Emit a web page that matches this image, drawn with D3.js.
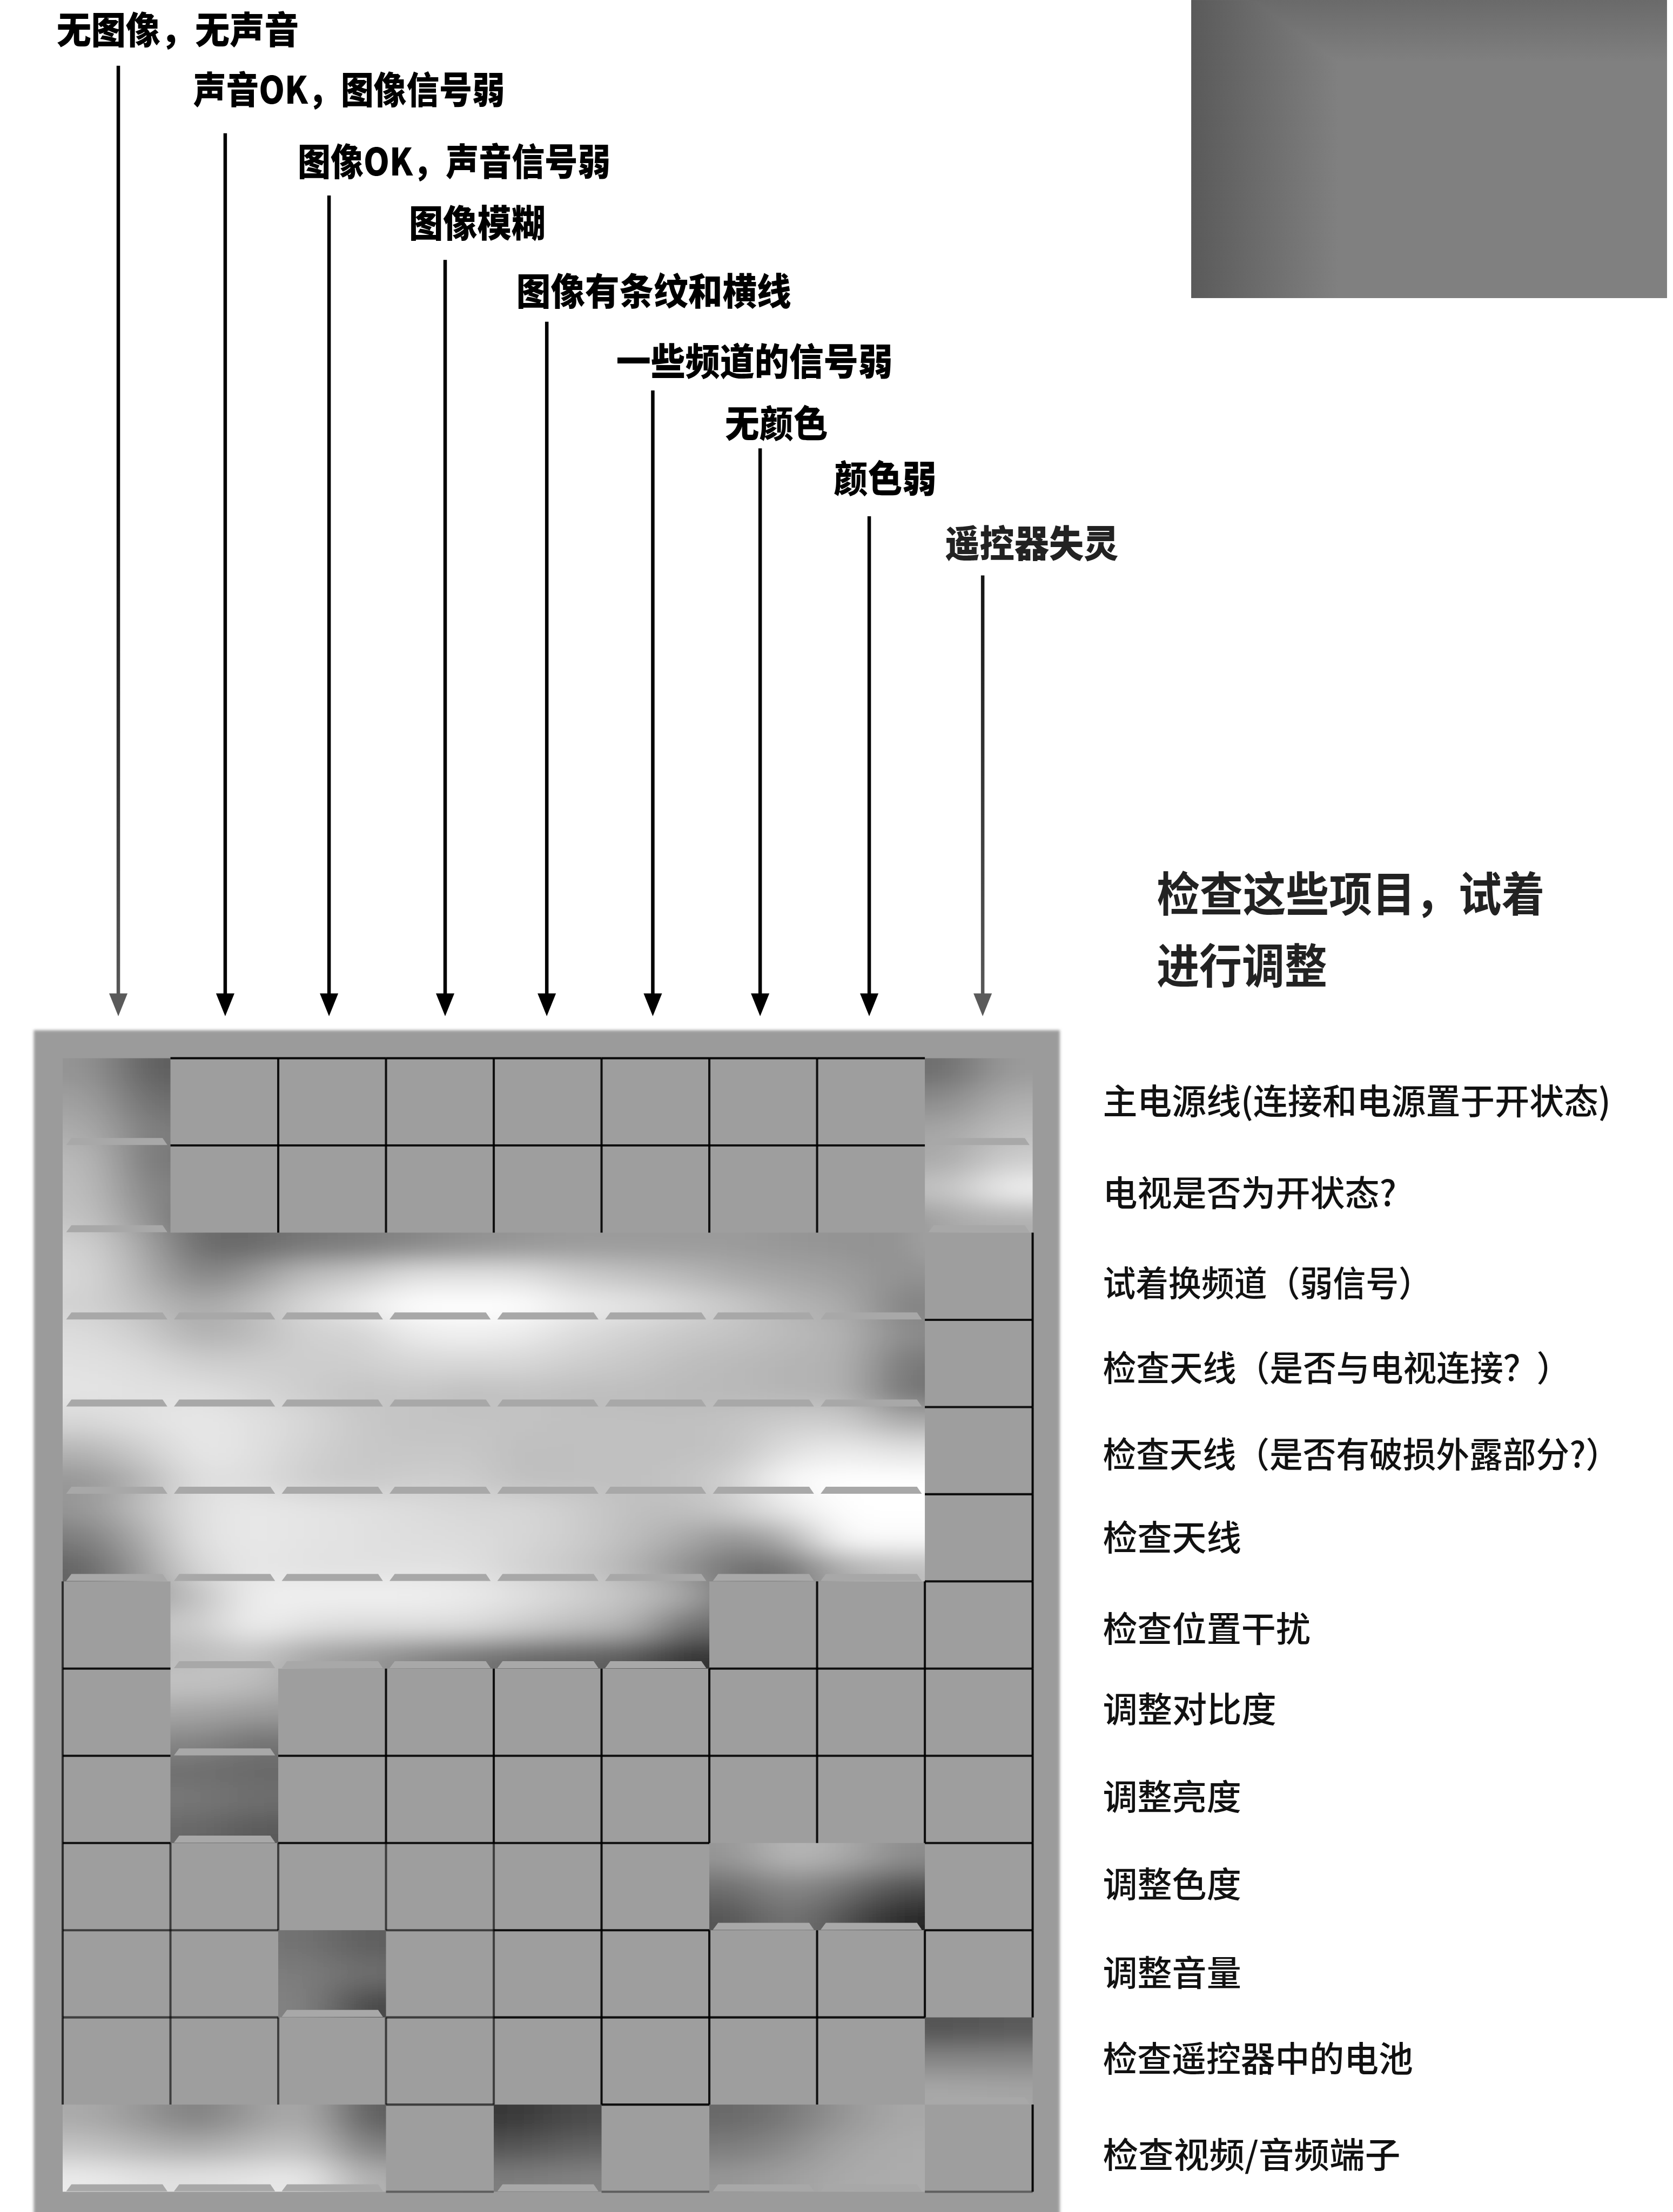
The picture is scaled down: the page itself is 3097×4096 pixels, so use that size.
<!DOCTYPE html>
<html>
<head>
<meta charset="utf-8">
<style>
  html, body { margin: 0; padding: 0; background: #fff; }
  svg { display: block; }
  text { font-family: "Noto Sans CJK SC", "Noto Sans", sans-serif; }
  .panel { mix-blend-mode: darken; }
</style>
</head>
<body>
<svg id="chart"></svg>
<script src="https://cdn.jsdelivr.net/npm/d3@7"></script>
<script>
// symptoms across the top, things to check down the right
const symptoms = ['无图像，无声音', '声音OK，图像信号弱', '图像OK，声音信号弱', '图像模糊', '图像有条纹和横线',
                  '一些频道的信号弱', '无颜色', '颜色弱', '遥控器失灵'];
const checkItems = ['主电源线(连接和电源置于开状态)', '电视是否为开状态?', '试着换频道（弱信号）', '检查天线（是否与电视连接？）',
                    '检查天线（是否有破损外露部分?）', '检查天线', '检查位置干扰', '调整对比度', '调整亮度', '调整色度',
                    '调整音量', '检查遥控器中的电池', '检查视频/音频端子'];
const heading = ['检查这些项目，试着', '进行调整'];

// which symptom columns are marked, one list per check item
const markedColumns = [
  [0, 8],
  [0, 8],
  [0, 1, 2, 3, 4, 5, 6, 7],
  [0, 1, 2, 3, 4, 5, 6, 7],
  [0, 1, 2, 3, 4, 5, 6, 7],
  [0, 1, 2, 3, 4, 5, 6, 7],
  [1, 2, 3, 4, 5],
  [1],
  [1],
  [6, 7],
  [2],
  [8],
  [0, 1, 2, 4, 6, 7]
];

// grey level: 2 samples across each column, 3 down each row
const _ = null;
const shadeRow0 = [
  [148, 95, _, _, _, _, _, _, _, _, _, _, _, _, _, _, 110, 155],
  [160, 110, _, _, _, _, _, _, _, _, _, _, _, _, _, _, 140, 175],
  [172, 125, _, _, _, _, _, _, _, _, _, _, _, _, _, _, 165, 190]];
const shadeRow1 = [
  [185, 120, _, _, _, _, _, _, _, _, _, _, _, _, _, _, 170, 205],
  [190, 130, _, _, _, _, _, _, _, _, _, _, _, _, _, _, 195, 240],
  [195, 145, _, _, _, _, _, _, _, _, _, _, _, _, _, _, 170, 175]];
const shadeRow2 = [
  [210, 165, 105, 105, 120, 125, 135, 145, 150, 155, 155, 155, 155, 150, 148, 145, _, _],
  [215, 175, 130, 150, 190, 200, 225, 225, 225, 205, 195, 185, 170, 165, 158, 145, _, _],
  [210, 190, 165, 185, 215, 235, 255, 255, 255, 235, 230, 215, 200, 180, 172, 130, _, _]];
const shadeRow3 = [
  [220, 205, 175, 185, 210, 210, 235, 240, 235, 220, 210, 200, 195, 185, 178, 140, _, _],
  [225, 220, 205, 205, 205, 205, 215, 215, 215, 205, 200, 190, 185, 180, 178, 120, _, _],
  [228, 225, 225, 215, 205, 195, 200, 190, 195, 190, 190, 185, 185, 180, 178, 115, _, _]];
const shadeRow4 = [
  [215, 225, 232, 225, 215, 200, 195, 195, 195, 192, 192, 192, 195, 205, 205, 170, _, _],
  [180, 205, 232, 225, 210, 200, 198, 200, 190, 192, 192, 192, 195, 225, 235, 225, _, _],
  [150, 180, 225, 222, 205, 200, 205, 205, 190, 192, 192, 195, 210, 250, 255, 255, _, _]];
const shadeRow5 = [
  [150, 190, 225, 232, 228, 225, 220, 215, 215, 205, 192, 190, 205, 235, 255, 255, _, _],
  [125, 170, 225, 232, 228, 225, 222, 220, 215, 205, 190, 170, 145, 175, 250, 250, _, _],
  [100, 155, 215, 232, 225, 225, 225, 225, 210, 200, 180, 145, 110, 110, 175, 190, _, _]];
const shadeRow6 = [
  [_, _, 190, 238, 240, 240, 240, 235, 225, 210, 195, 170, _, _, _, _, _, _],
  [_, _, 200, 240, 225, 220, 222, 220, 205, 190, 180, 110, _, _, _, _, _, _],
  [_, _, 185, 200, 165, 155, 135, 120, 105, 100, 90, 50, _, _, _, _, _, _]];
const shadeRow7 = [
  [_, _, 195, 190, _, _, _, _, _, _, _, _, _, _, _, _, _, _],
  [_, _, 165, 155, _, _, _, _, _, _, _, _, _, _, _, _, _, _],
  [_, _, 135, 115, _, _, _, _, _, _, _, _, _, _, _, _, _, _]];
const shadeRow8 = [
  [_, _, 110, 105, _, _, _, _, _, _, _, _, _, _, _, _, _, _],
  [_, _, 120, 110, _, _, _, _, _, _, _, _, _, _, _, _, _, _],
  [_, _, 105, 90, _, _, _, _, _, _, _, _, _, _, _, _, _, _]];
const shadeRow9 = [
  [_, _, _, _, _, _, _, _, _, _, _, _, 150, 185, 170, 140, _, _],
  [_, _, _, _, _, _, _, _, _, _, _, _, 110, 140, 115, 80, _, _],
  [_, _, _, _, _, _, _, _, _, _, _, _, 85, 120, 80, 40, _, _]];
const shadeRow10 = [
  [_, _, _, _, 115, 95, _, _, _, _, _, _, _, _, _, _, _, _],
  [_, _, _, _, 125, 110, _, _, _, _, _, _, _, _, _, _, _, _],
  [_, _, _, _, 130, 70, _, _, _, _, _, _, _, _, _, _, _, _]];
const shadeRow11 = [
  [_, _, _, _, _, _, _, _, _, _, _, _, _, _, _, _, 85, 90],
  [_, _, _, _, _, _, _, _, _, _, _, _, _, _, _, _, 135, 135],
  [_, _, _, _, _, _, _, _, _, _, _, _, _, _, _, _, 168, 165]];
const shadeRow12 = [
  [170, 150, 125, 155, 175, 95, _, _, 55, 75, _, _, 105, 120, 150, 168, _, _],
  [195, 180, 170, 185, 195, 130, _, _, 85, 100, _, _, 125, 140, 165, 172, _, _],
  [235, 225, 225, 228, 235, 175, _, _, 125, 130, _, _, 150, 160, 170, 172, _, _]];

// label layout, in reference pixels
const symptomX = [129, 441, 679, 933, 1178, 1406, 1654, 1902, 2156];
const symptomY = [100, 236, 400, 541, 696, 857, 998, 1124, 1272];
const symptomW = [553, 711, 714, 312, 627, 631, 235, 235, 396];
const arrowTop = [150, 304, 446, 593, 734, 891, 1023, 1178, 1313];
const arrowNudge = [4, 2, -7, 12, -2, -6, -7, -4, 9];
const arrowColor = ['url(#arrowFade)', '#000', '#000', '#000', '#000', '#000', '#000', '#000', 'url(#arrowFade)'];
const itemY = [2542, 2752, 2958, 3151, 3348, 3538, 3747, 3930, 4130, 4329, 4532, 4728, 4947];
const itemW = [1159, 670, 750, 1066, 1178, 316, 474, 396, 316, 316, 316, 708, 679];

const refW = 3817, refH = 5048;
const svg = d3.select('#chart')
    .attr('width', 3097)
    .attr('height', 4096)
    .attr('viewBox', '0 0 ' + refW + ' ' + refH);

const gridLeft = 143, gridRight = 2356, gridTop = 2415, gridBottom = 5002;
const x = d3.scaleBand().domain(d3.range(symptoms.length)).range([gridLeft, gridRight]);
const y = d3.scaleBand().domain(d3.range(checkItems.length)).range([gridTop, gridBottom]);

const shadeRows = [shadeRow0, shadeRow1, shadeRow2, shadeRow3, shadeRow4, shadeRow5, shadeRow6,
                   shadeRow7, shadeRow8, shadeRow9, shadeRow10, shadeRow11, shadeRow12].flat();
const sx = d3.scaleBand().domain(d3.range(18)).range([gridLeft, gridRight]);
const sy = d3.scaleBand().domain(d3.range(39)).range([gridTop, gridBottom]);

const isMarked = (r, c) => markedColumns[r] !== undefined && markedColumns[r].includes(c);

// unmarked samples are hidden under the flat cells, they only take the nearest
// marked grey so the blur does not wash out the edges of a marked cell
function nearestShade(j, i) {
  let best = 158, bestDist = Infinity;
  shadeRows.forEach((row, b) => row.forEach((v, a) => {
    if (v === null) return;
    const d = Math.pow((a - i) * sx.bandwidth(), 2) + Math.pow((b - j) * sy.bandwidth(), 2);
    if (d < bestDist) { bestDist = d; best = v; }
  }));
  return best;
}
const samples = [];
shadeRows.forEach((row, j) => row.forEach((v, i) => {
  samples.push({ i: i, j: j, v: v === null ? nearestShade(j, i) : v });
}));

const defs = svg.append('defs');
const soft = defs.append('filter').attr('id', 'soft').attr('filterUnits', 'userSpaceOnUse')
    .attr('x', 0).attr('y', 2200).attr('width', 2600).attr('height', 3000);
soft.append('feGaussianBlur').attr('stdDeviation', '62 27');
const edge = defs.append('filter').attr('id', 'edge').attr('filterUnits', 'userSpaceOnUse')
    .attr('x', 0).attr('y', 2250).attr('width', 2600).attr('height', 3000);
edge.append('feGaussianBlur').attr('stdDeviation', 3);
defs.append('clipPath').attr('id', 'gridClip').append('rect')
    .attr('x', gridLeft).attr('y', gridTop)
    .attr('width', gridRight - gridLeft).attr('height', gridBottom - gridTop);

const arrowFade = defs.append('linearGradient').attr('id', 'arrowFade').attr('gradientUnits', 'userSpaceOnUse')
    .attr('x1', 0).attr('y1', 1000).attr('x2', 0).attr('y2', 2300);
arrowFade.append('stop').attr('offset', 0).attr('stop-color', '#000');
arrowFade.append('stop').attr('offset', 1).attr('stop-color', '#5a5a5a');

// gray panel, top right
const panelH = defs.append('linearGradient').attr('id', 'panelH');
panelH.append('stop').attr('offset', 0).attr('stop-color', '#5a5a5a');
panelH.append('stop').attr('offset', 0.31).attr('stop-color', '#808080');
const panelV = defs.append('linearGradient').attr('id', 'panelV').attr('x2', 0).attr('y2', 1);
panelV.append('stop').attr('offset', 0).attr('stop-color', '#6a6a6a');
panelV.append('stop').attr('offset', 0.21).attr('stop-color', '#808080');
svg.append('g').style('isolation', 'isolate').selectAll('rect')
    .data(['#808080', 'url(#panelH)', 'url(#panelV)'])
    .enter()
    .append('rect')
        .attr('class', 'panel')
        .attr('x', 2718).attr('y', 0).attr('width', 1085).attr('height', 680)
        .attr('fill', d => d);

// frame
svg.append('rect')
    .attr('x', 77).attr('y', 2351).attr('width', 2341).attr('height', 2800)
    .attr('fill', '#9b9b9b')
    .attr('filter', 'url(#edge)');

// soft shading behind the marked cells
const shadeLayer = svg.append('g').attr('clip-path', 'url(#gridClip)')
    .append('g').attr('filter', 'url(#soft)');
shadeLayer.selectAll('rect')
    .data(samples)
    .enter()
    .append('rect')
        .attr('x', d => sx(d.i) - (d.i === 0 ? 200 : 0))
        .attr('y', d => sy(d.j) - (d.j === 0 ? 150 : 0))
        .attr('width', d => sx.bandwidth() + 1 + (d.i === 0 || d.i === 17 ? 200 : 0))
        .attr('height', d => sy.bandwidth() + 1 + (d.j === 0 || d.j === 38 ? 150 : 0))
        .attr('fill', d => d3.rgb(d.v, d.v, d.v));

const cells = [];
checkItems.forEach((item, r) => symptoms.forEach((s, c) => {
  cells.push({ r: r, c: c, marked: isMarked(r, c) });
}));

// flat cells
svg.append('g').selectAll('rect')
    .data(cells.filter(d => !d.marked))
    .enter()
    .append('rect')
        .attr('x', d => x(d.c))
        .attr('y', d => y(d.r))
        .attr('width', x.bandwidth())
        .attr('height', y.bandwidth())
        .attr('fill', '#9e9e9e');

// little ledge at the foot of each marked cell
const ledgeLine = d3.line();
svg.append('g').selectAll('path')
    .data(cells.filter(d => d.marked))
    .enter()
    .append('path')
        .attr('d', d => {
          const l = x(d.c), r = l + x.bandwidth(), b = y(d.r) + y.bandwidth() - 1;
          return ledgeLine([[l + 8, b], [l + 20, b - 16], [r - 18, b - 16], [r - 7, b]]) + 'Z';
        })
        .attr('fill', '#a8a8a8');

// grid lines only run along flat cells
const segments = [];
const rows = d3.range(checkItems.length), cols = d3.range(symptoms.length);
const rowEnd = r => y(r) + y.bandwidth();
const colEnd = c => x(c) + x.bandwidth();
const flat = (r, c) => r >= 0 && r < rows.length && c >= 0 && c < cols.length && !isMarked(r, c);
rows.forEach(r => cols.forEach(c => {
  if (!flat(r, c)) return;
  const weak = r >= 9 && c <= 3 ? 0.6 : 0.9;
  if (c < 8 && flat(r, c + 1)) segments.push({ x1: colEnd(c), x2: colEnd(c), y1: y(r), y2: rowEnd(r), o: weak });
  if (r < 12 && flat(r + 1, c)) segments.push({ x1: x(c), x2: colEnd(c), y1: rowEnd(r), y2: rowEnd(r), o: weak });
  if (r === 0) segments.push({ x1: x(c), x2: colEnd(c), y1: y(r), y2: y(r), o: 0.95 });
  if (c === 8) segments.push({ x1: colEnd(c), x2: colEnd(c), y1: y(r), y2: rowEnd(r), o: 0.95 });
  if (c === 0) segments.push({ x1: x(c), x2: x(c), y1: y(r), y2: rowEnd(r), o: 0.7 });
  if (r === 12) segments.push({ x1: x(c), x2: colEnd(c), y1: rowEnd(r), y2: rowEnd(r), o: 0.4 });
}));
svg.append('g').selectAll('line')
    .data(segments)
    .enter()
    .append('line')
        .attr('x1', d => d.x1).attr('x2', d => d.x2)
        .attr('y1', d => d.y1).attr('y2', d => d.y2)
        .attr('stroke', '#000')
        .attr('stroke-opacity', d => d.o)
        .attr('stroke-width', 5);

// arrows from each symptom down to its column
const arrowTip = 2319;
const arrows = svg.append('g').selectAll('g')
    .data(symptoms)
    .enter()
    .append('g');
arrows.append('line')
    .attr('x1', (d, i) => x(i) + x.bandwidth() / 2 + arrowNudge[i])
    .attr('x2', (d, i) => x(i) + x.bandwidth() / 2 + arrowNudge[i])
    .attr('y1', (d, i) => arrowTop[i])
    .attr('y2', arrowTip - 45)
    .attr('stroke', (d, i) => arrowColor[i])
    .attr('stroke-width', 8);
arrows.append('path')
    .attr('d', (d, i) => {
      const cx = x(i) + x.bandwidth() / 2 + arrowNudge[i];
      return d3.line()([[cx - 21, arrowTip - 52], [cx + 21, arrowTip - 52], [cx, arrowTip]]) + 'Z';
    })
    .attr('fill', (d, i) => arrowColor[i] === '#000' ? '#000' : '#5a5a5a');

// symptom labels, a bit taller than wide like the print
svg.append('g').selectAll('text')
    .data(symptoms)
    .enter()
    .append('text')
        .text(d => d)
        .attr('transform', (d, i) => 'translate(' + symptomX[i] + ',' + symptomY[i] + ') scale(1,1.1)')
        .attr('textLength', (d, i) => symptomW[i])
        .attr('lengthAdjust', 'spacingAndGlyphs')
        .attr('font-size', 78)
        .attr('font-weight', 900)
        .attr('fill', (d, i) => i === 8 ? '#222' : '#000');

svg.append('g').selectAll('text')
    .data(heading)
    .enter()
    .append('text')
        .text(d => d)
        .attr('transform', (d, i) => 'translate(2639,' + (2080 + i * 164) + ') scale(1,1.1)')
        .attr('textLength', (d, i) => [885, 389][i])
        .attr('lengthAdjust', 'spacingAndGlyphs')
        .attr('font-size', 98)
        .attr('font-weight', 700)
        .attr('fill', '#222');

svg.append('g').selectAll('text')
    .data(checkItems)
    .enter()
    .append('text')
        .text(d => d)
        .attr('x', 2516)
        .attr('y', (d, i) => itemY[i])
        .attr('textLength', (d, i) => itemW[i])
        .attr('lengthAdjust', 'spacingAndGlyphs')
        .attr('font-size', 80)
        .attr('font-weight', 500)
        .attr('fill', '#111');
</script>
</body>
</html>
